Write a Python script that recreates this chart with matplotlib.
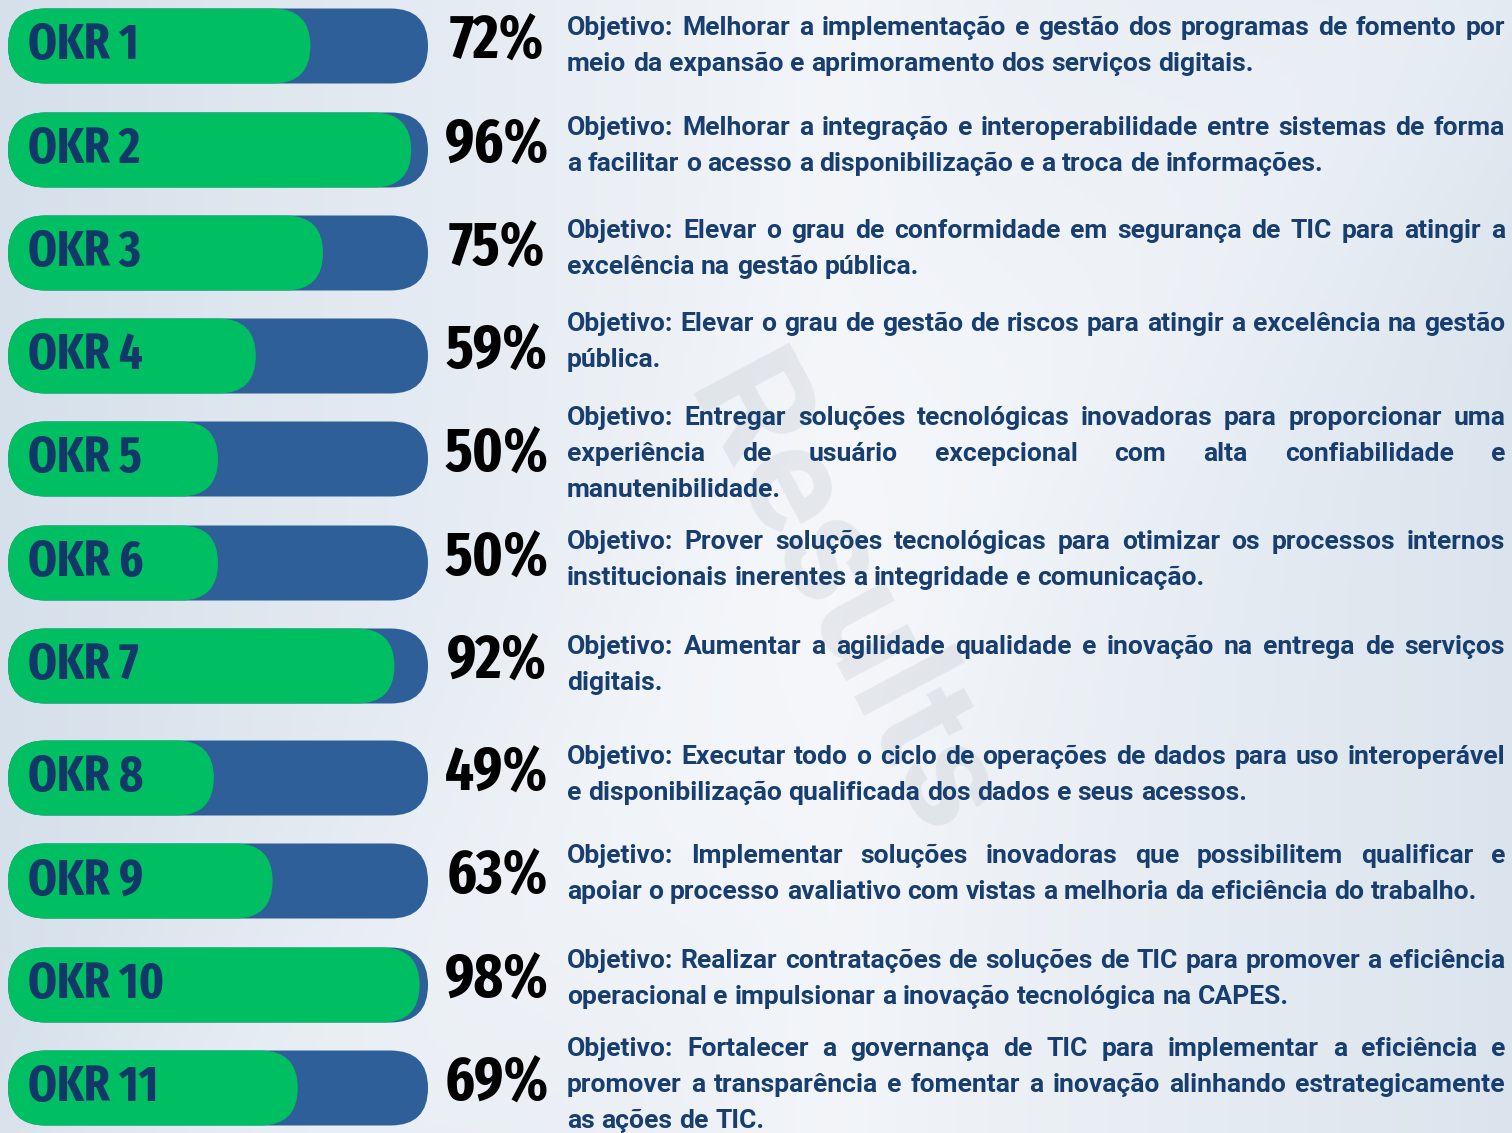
import numpy as np
import matplotlib
matplotlib.use("Agg")
import matplotlib.pyplot as plt
from matplotlib.patches import FancyBboxPatch
from matplotlib import font_manager as fm

# ---------------- data ----------------
okr_labels = ["OKR 1", "OKR 2", "OKR 3", "OKR 4", "OKR 5", "OKR 6",
              "OKR 7", "OKR 8", "OKR 9", "OKR 10", "OKR 11"]
progress_pct = [72, 96, 75, 59, 50, 50, 92, 49, 63, 98, 69]
objective_lines = [
    ["Objetivo: Melhorar a implementação e gestão dos programas de fomento por",
     "meio da expansão e aprimoramento dos serviços digitais."],
    ["Objetivo: Melhorar a integração e interoperabilidade entre sistemas de forma",
     "a facilitar o acesso a disponibilização e a troca de informações."],
    ["Objetivo: Elevar o grau de conformidade em segurança de TIC para atingir a",
     "excelência na gestão pública."],
    ["Objetivo: Elevar o grau de gestão de riscos para atingir a excelência na gestão",
     "pública."],
    ["Objetivo: Entregar soluções tecnológicas inovadoras para proporcionar uma",
     "experiência de usuário excepcional com alta confiabilidade e",
     "manutenibilidade."],
    ["Objetivo: Prover soluções tecnológicas para otimizar os processos internos",
     "institucionais inerentes a integridade e comunicação."],
    ["Objetivo: Aumentar a agilidade qualidade e inovação na entrega de serviços",
     "digitais."],
    ["Objetivo: Executar todo o ciclo de operações de dados para uso interoperável",
     "e disponibilização qualificada dos dados e seus acessos."],
    ["Objetivo: Implementar soluções inovadoras que possibilitem qualificar e",
     "apoiar o processo avaliativo com vistas a melhoria da eficiência do trabalho."],
    ["Objetivo: Realizar contratações de soluções de TIC para promover a eficiência",
     "operacional e impulsionar a inovação tecnológica na CAPES."],
    ["Objetivo: Fortalecer a governança de TIC para implementar a eficiência e",
     "promover a transparência e fomentar a inovação alinhando estrategicamente",
     "as ações de TIC."],
]

# ---------------- layout / style ----------------
W, H = 1512, 1133
row_centers = [46, 150, 253, 356, 459, 563, 666, 778, 881, 985, 1088]
para_first_line = [28, 128, 231, 324, 418, 542, 647, 757, 856, 961, 1049]
line_step = 36
bar_x0, bar_w, bar_h = 8, 420, 75
txt_x0, txt_x1 = 567, 1505

BLUE = "#2E5F98"
GREEN = "#00BF63"
LABEL_C = "#12386A"
TEXT_C = "#173E6E"


def pick_font(cands):
    for c in cands:
        try:
            fm.findfont(fm.FontProperties(family=c), fallback_to_default=False)
            return c
        except Exception:
            pass
    return "DejaVu Sans"


def find_narrow_bold():
    best = None
    best_score = -1
    for f in fm.fontManager.ttflist:
        nm = (f.name + " " + f.fname).lower()
        narrowish = ("condensed" in nm or "narrow" in nm or
                     f.stretch in ("condensed", "semi-condensed",
                                   "extra-condensed", "ultra-condensed"))
        if not narrowish or "italic" in nm or "oblique" in nm or f.style != "normal":
            continue
        w = f.weight if isinstance(f.weight, int) else {"bold": 700}.get(f.weight, 400)
        score = 0
        if w >= 700:
            score += 10
        if "extra" in nm and "condensed" in nm:
            score += 3
        if "condensed" in nm:
            score += 2
        if "black" in nm or "extrabold" in nm:
            score -= 1
        if score > best_score:
            best_score = score
            best = f.fname
    return best


narrow_path = find_narrow_bold()
if narrow_path:
    narrow_fp = dict(fontproperties=fm.FontProperties(fname=narrow_path))
else:
    narrow_fp = dict(family="DejaVu Sans", fontweight="bold")
body = pick_font(["Roboto", "Open Sans", "DejaVu Sans"])

fig = plt.figure(figsize=(W / 100, H / 100), dpi=100)
ax = fig.add_axes([0, 0, 1, 1])
ax.set_xlim(0, W)
ax.set_ylim(H, 0)
ax.axis("off")

# background gradient
yy, xx = np.mgrid[0:1:200j, 0:1:300j]
c_left = np.array([0.84, 0.88, 0.92])
c_mid = np.array([0.95, 0.96, 0.975])
t = np.clip(np.abs(xx - 0.55) / 0.55, 0, 1)[..., None]
band = np.exp(-((xx * 0.8 + yy * 0.6 - 0.75) ** 2) / 0.02)[..., None]
img = c_mid * (1 - t) + c_left * t
img = img * (1 - 0.3 * band) + np.array([0.99, 0.99, 1.0]) * 0.3 * band
ax.imshow(img, extent=[0, W, H, 0], aspect="auto", zorder=0)

# faint watermark
ax.text(840, 600, "Results", rotation=-62, fontsize=110, color="#a7b0b9",
        alpha=0.2, ha="center", va="center", family=body, fontweight="bold",
        zorder=1)


def txt(x, y, s, size, color, **kw):
    props = dict(narrow_fp)
    if "fontproperties" in props:
        fp = props["fontproperties"].copy()
        fp.set_size(size)
        return ax.text(x, y, s, fontproperties=fp, color=color, **kw)
    return ax.text(x, y, s, fontsize=size, color=color, **props, **kw)


# bars
for i, (lab, p) in enumerate(zip(okr_labels, progress_pct)):
    yc = row_centers[i]
    top = yc - bar_h / 2
    bg = FancyBboxPatch((bar_x0, top), bar_w, bar_h,
                        boxstyle=f"round,pad=0,rounding_size={bar_h/2}",
                        fc=BLUE, ec="none", zorder=2)
    ax.add_patch(bg)
    gw = bar_w * p / 100.0
    fg = FancyBboxPatch((bar_x0, top), gw, bar_h,
                        boxstyle=f"round,pad=0,rounding_size={bar_h/2}",
                        fc=GREEN, ec="none", zorder=3)
    ax.add_patch(fg)
    txt(28, yc, lab, 36, LABEL_C, ha="left", va="center", zorder=4)
    txt(497, yc - 4, f"{p}%", 44, "black", ha="center", va="center", zorder=4)

# justified objective text
fig.canvas.draw()
renderer = fig.canvas.get_renderer()


def width_of(s, fs):
    tt = ax.text(0, 0, s, fontsize=fs, fontweight="bold", family=body)
    bb = tt.get_window_extent(renderer=renderer)
    tt.remove()
    return bb.width


fs_body = 16.0
ref = objective_lines[8][1]
fs_body = fs_body * 913.0 / width_of(ref, fs_body)
space_w = width_of("a a", fs_body) - width_of("aa", fs_body)

for i, lines in enumerate(objective_lines):
    for j, line in enumerate(lines):
        yb = para_first_line[i] + j * line_step + 7
        words = line.split(" ")
        ws = [width_of(w, fs_body) for w in words]
        last = (j == len(lines) - 1)
        if last or len(words) == 1:
            gap = space_w
        else:
            gap = (txt_x1 - txt_x0 - sum(ws)) / (len(words) - 1)
        x = txt_x0
        for w, wd in zip(words, ws):
            ax.text(x, yb, w, fontsize=fs_body, fontweight="bold", family=body,
                    color=TEXT_C, ha="left", va="baseline", zorder=4)
            x += wd + gap

fig.savefig("out.png", dpi=100)
